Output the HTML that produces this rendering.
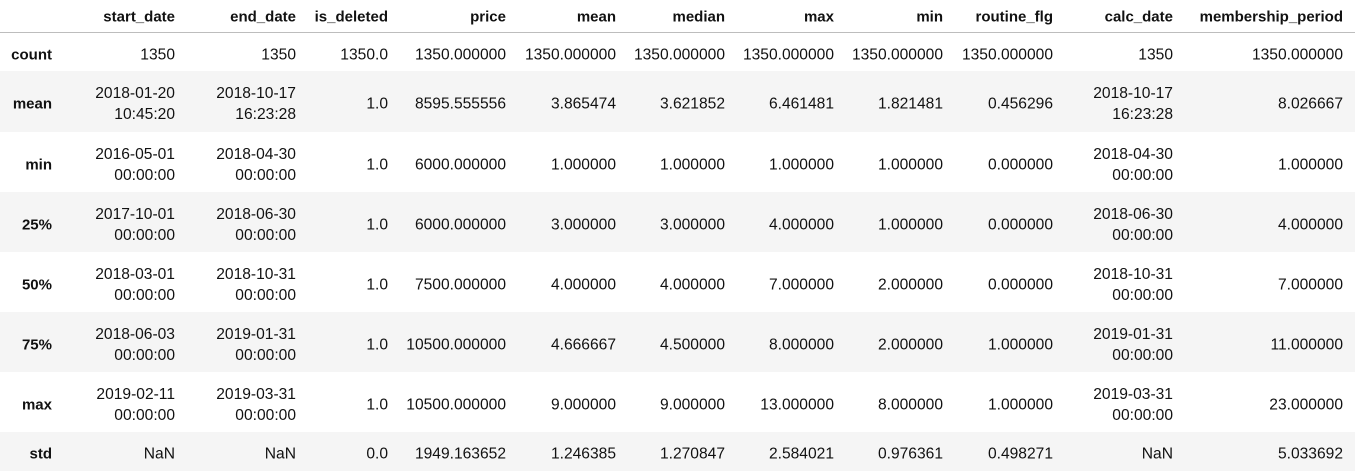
<!DOCTYPE html>
<html><head><meta charset="utf-8"><style>
body{margin:0;width:1355px;height:475px;background:#fff;font-family:"Liberation Sans",Arial,sans-serif;font-size:15.6px;color:#111;position:relative;overflow:hidden}
.row{position:absolute;left:0;width:1355px}
.c{position:absolute;text-align:right;line-height:21px;white-space:nowrap;transform:translateY(-50%)}
.h{font-weight:bold;font-size:15px}
</style></head><body>
<div id="t"></div>
<script>
const cols=["start_date","end_date","is_deleted","price","mean","median","max","min","routine_flg","calc_date","membership_period"];
const rights=[175,296,388,506,616,725,834,943,1053,1173,1343];
const idx=["count","mean","min","25%","50%","75%","max","std"];
const bounds=[33,71,132,192,252,312,372,432,471];
const data=[
["1350","1350","1350.0","1350.000000","1350.000000","1350.000000","1350.000000","1350.000000","1350.000000","1350","1350.000000"],
["2018-01-20<br>10:45:20","2018-10-17<br>16:23:28","1.0","8595.555556","3.865474","3.621852","6.461481","1.821481","0.456296","2018-10-17<br>16:23:28","8.026667"],
["2016-05-01<br>00:00:00","2018-04-30<br>00:00:00","1.0","6000.000000","1.000000","1.000000","1.000000","1.000000","0.000000","2018-04-30<br>00:00:00","1.000000"],
["2017-10-01<br>00:00:00","2018-06-30<br>00:00:00","1.0","6000.000000","3.000000","3.000000","4.000000","1.000000","0.000000","2018-06-30<br>00:00:00","4.000000"],
["2018-03-01<br>00:00:00","2018-10-31<br>00:00:00","1.0","7500.000000","4.000000","4.000000","7.000000","2.000000","0.000000","2018-10-31<br>00:00:00","7.000000"],
["2018-06-03<br>00:00:00","2019-01-31<br>00:00:00","1.0","10500.000000","4.666667","4.500000","8.000000","2.000000","1.000000","2019-01-31<br>00:00:00","11.000000"],
["2019-02-11<br>00:00:00","2019-03-31<br>00:00:00","1.0","10500.000000","9.000000","9.000000","13.000000","8.000000","1.000000","2019-03-31<br>00:00:00","23.000000"],
["NaN","NaN","0.0","1949.163652","1.246385","1.270847","2.584021","0.976361","0.498271","NaN","5.033692"]];
const t=document.getElementById('t');
function cell(txt,r,y,cls,name){const d=document.createElement('div');d.className='c '+(cls||'');d.innerHTML=txt;d.style.right=(1355-r)+'px';d.style.top=y+'px';


t.appendChild(d);}
cols.forEach((c,i)=>cell(c,rights[i],17,'h','header-'+c.replace(/_/g,'-')));
const line=document.createElement('div');line.style.cssText='position:absolute;left:0;top:32px;width:1355px;height:1px;background:#bdbdbd';


t.appendChild(line);
idx.forEach((n,r)=>{
const top=bounds[r],bot=bounds[r+1];
if(r%2==1){const bg=document.createElement('div');bg.className='row';bg.style.top=top+'px';bg.style.height=(bot-top)+'px';bg.style.background='#f5f5f5';


t.appendChild(bg);}
const cy=(top+bot)/2+2.5;
cell(n,52,cy,'h','index-'+n.replace('%','pct'));
data[r].forEach((v,i)=>cell(v,rights[i],cy,'','cell-'+n.replace('%','pct')+'-'+cols[i].replace(/_/g,'-')));
});
</script>
</body></html>
